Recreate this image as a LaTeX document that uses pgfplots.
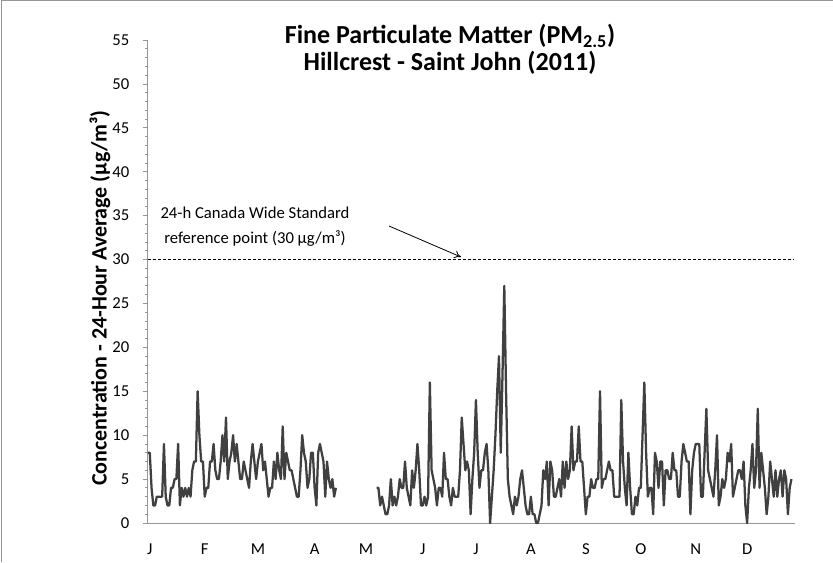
\documentclass[border=0pt]{standalone}
\usepackage{pgfplots}
\usepackage{pgfplotstable}
\pgfplotsset{compat=1.18}
\usetikzlibrary{arrows.meta}
\usepackage{fontspec}
\setmainfont{Carlito}
\pgfplotstableread{
day val
0 8
1 8
2 4
3 2
4 2
5 3
6 3
7 3
8 3
9 9
10 3
11 2
12 2
13 4
14 4
15 5
16 5
17 9
18 2
19 4
20 3
21 4
22 3
23 4
24 3
25 6
26 7
27 7
28 15
29 10
30 7
31 7
32 3
33 4
34 4
35 7
36 7
37 9
38 6
39 5
40 5
41 7
42 10
43 7
44 12
45 5
46 7
47 8
48 10
49 7
50 9
51 7
52 5
53 5
54 7
55 6
56 5
57 4
58 7
59 9
60 7
61 5
62 7
63 8
64 9
65 6
66 7
67 5
68 3
69 4
70 4
71 7
72 5
73 8
74 6
75 5
76 11
77 5
78 8
79 7
80 6
81 6
82 5
83 4
84 3
85 3
86 6
87 10
88 8
89 7
90 4
91 5
92 8
93 8
94 4
95 2
96 8
97 9
98 8
99 7
100 3
101 7
102 5
103 4
104 5
105 3
106 4
107 nan
129 4
130 4
131 2
132 3
133 2
134 1
135 1
136 2
137 5
138 2
139 3
140 2
141 3
142 5
143 4
144 4
145 7
146 4
147 3
148 2
149 6
150 4
151 6
152 9
153 6
154 2
155 2
156 3
157 2
158 3
159 16
160 6
161 5
162 4
163 2
164 4
165 4
166 3
167 8
168 5
169 5
170 3
171 2
172 4
173 3
174 3
175 3
176 6
177 12
178 9
179 6
180 7
181 6
182 1
183 5
184 8
185 14
186 8
187 4
188 6
189 6
190 8
191 9
192 6
193 0
194 3
195 6
196 10
197 15
198 19
199 8
200 17
201 27
202 15
203 5
204 3
205 2
206 1
207 3
208 2
209 3
210 5
211 6
212 4
213 2
214 1
215 1
216 3
217 1
218 1
219 0
220 0
221 1
222 2
223 6
224 5
225 7
226 2
227 7
228 6
229 3
230 3
231 4
232 5
233 3
234 7
235 4
236 7
237 5
238 6
239 11
240 6
241 7
242 7
243 11
244 7
245 7
246 4
247 1
248 3
249 3
250 5
251 4
252 4
253 5
254 5
255 15
256 4
257 5
258 5
259 6
260 7
261 6
262 6
263 3
264 3
265 3
266 3
267 14
268 7
269 4
270 2
271 8
272 4
273 1
274 1
275 3
276 2
277 4
278 4
279 10
280 16
281 8
282 3
283 4
284 4
285 1
286 8
287 7
288 4
289 7
290 7
291 2
292 6
293 6
294 5
295 5
296 8
297 6
298 6
299 3
300 3
301 7
302 9
303 8
304 7
305 7
306 1
307 6
308 8
309 9
310 9
311 9
312 3
313 3
314 8
315 13
316 6
317 5
318 4
319 3
320 6
321 10
322 2
323 3
324 5
325 4
326 5
327 8
328 7
329 9
330 3
331 4
332 5
333 6
334 6
335 5
336 7
337 2
338 0
339 4
340 6
341 9
342 4
343 6
344 13
345 4
346 8
347 6
348 4
349 1
350 3
351 7
352 5
353 3
354 6
355 3
356 5
357 6
358 3
359 6
360 5
361 1
362 4
363 5
}\pmdata
\definecolor{linegray}{RGB}{64,64,64}
\definecolor{axisgray}{RGB}{150,150,150}
\begin{document}
\begin{tikzpicture}[x=0.75pt,y=0.75pt]
\path[use as bounding box] (0,0) rectangle (833,562);
\draw[axisgray, line width=0.75pt] (1,0) -- (1,561) -- (833,561);
\begin{axis}[
  at={(111pt,29.25pt)}, anchor=south west,
  scale only axis, width=485.25pt, height=362.25pt,
  xmin=0, xmax=365, ymin=0, ymax=55,
  axis x line*=bottom, axis y line*=left,
  axis line style={draw=axisgray, line width=0.75pt, -},
  ytick={0,5,...,55}, minor y tick num=4,
  xtick={1,32,62,94,123,155,185,216,247,278,309,338},
  xticklabels={J,F,M,A,M,J,J,A,S,O,N,D},
  tick align=outside,
  major tick length=4pt, minor tick length=2.5pt,
  y tick style={draw=axisgray, line width=0.6pt},
  x tick style={draw=none},
  /pgf/number format/assume math mode=true,
  tick label style={font=\fontsize{12.5}{14}\selectfont, text=black},
  yticklabel style={anchor=east, xshift=-6.5pt},
  xticklabel style={anchor=north, yshift=-8pt},
  clip=false,
]
\addplot[black, line width=0.75pt, dash pattern=on 2.25pt off 1.5pt] coordinates {(0,30) (364,30)};
\addplot[linegray, line width=1.7pt, line join=round, unbounded coords=jump] table[x=day, y=val] {\pmdata};
\end{axis}
\node[font=\fontsize{19.5}{22}\selectfont\bfseries, anchor=base] at (450,518.6) {Fine Particulate Matter (PM\textsubscript{2.5})};
\node[font=\fontsize{19.5}{22}\selectfont\bfseries, anchor=base] at (450,491.6) {Hillcrest - Saint John (2011)};
\node[font=\fontsize{16.5}{18}\selectfont\bfseries, rotate=90, anchor=center] at (100,264) {Concentration - 24-Hour Average (µg/m³)};
\node[font=\fontsize{12.5}{14}\selectfont, anchor=base] at (255,343.7) {24-h Canada Wide Standard};
\node[font=\fontsize{12.5}{14}\selectfont, anchor=base] at (255,318.7) {reference point (30 µg/m³)};
\draw[black, line width=0.6pt, -{To[length=5pt, width=6pt]}] (389,336) -- (461,305);
\end{tikzpicture}
\end{document}
